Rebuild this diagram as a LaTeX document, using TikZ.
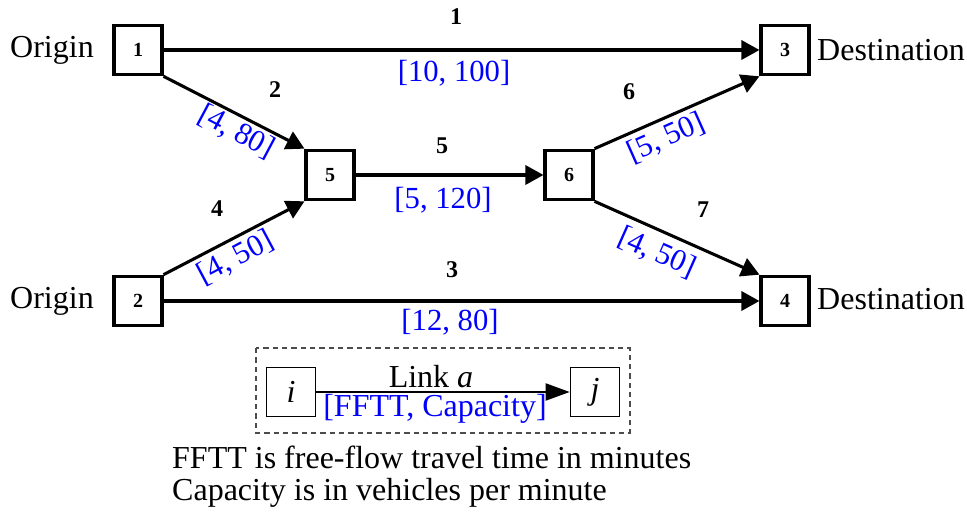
\documentclass[tikz,border=0pt]{standalone}
\usepackage{fontspec}
\setmainfont{Liberation Serif}
\usetikzlibrary{arrows.meta}
\begin{document}
\begin{tikzpicture}[x=0.375pt, y=-0.375pt,
    box/.style={draw, line width=1.15pt, minimum width=18pt, minimum height=18.6pt,
      inner sep=0pt, font=\fontsize{7.5}{8}\selectfont\bfseries},
    link/.style={line width=1.15pt, -{Triangle[length=6.8pt,width=7.2pt]}},
    num/.style={inner sep=1pt, font=\fontsize{9}{10}\selectfont\bfseries},
    fftt/.style={inner sep=0.5pt, text=blue, font=\fontsize{11.5}{13}\selectfont},
    tag/.style={inner sep=1pt, font=\fontsize{12}{14}\selectfont}]
  \useasboundingbox (0,0) rectangle (967,512);

  % Nodes
  \node[box] (n1) at (138,50) {1};
  \node[box] (n2) at (138,301) {2};
  \node[box] (n3) at (785,50) {3};
  \node[box] (n4) at (785,301) {4};
  \node[box] (n5) at (330,175) {5};
  \node[box] (n6) at (569,175) {6};

  \node[tag] (o1) at (52,50) {Origin};
  \node[tag] (o2) at (52,301) {Origin};
  \node[tag] (d3) at (891,50) {Destination};
  \node[tag] (d4) at (891,299) {Destination};

  % Links
  \draw[link] (n1) -- (n3);
  \draw[link] (n1.south east) -- (n5.north west);
  \draw[link] (n2) -- (n4);
  \draw[link] (n2.north east) -- (n5.south west);
  \draw[link] (n5) -- (n6);
  \draw[link] (n6.north east) -- (n3.south west);
  \draw[link] (n6.south east) -- (n4.north west);

  % Link numbers and [FFTT, capacity]
  \node[num] (a1) at (456,17) {1};
  \node[fftt] (c1) at (454,73) {[10, 100]};
  \node[num] (a2) at (275,90) {2};
  \node[fftt, rotate=-28] (c2) at (236,132) {[4, 80]};
  \node[num] (a3) at (452,270) {3};
  \node[fftt] (c3) at (450,322) {[12, 80]};
  \node[num] (a4) at (217,209) {4};
  \node[fftt, rotate=28] (c4) at (236,258) {[4, 50]};
  \node[num] (a5) at (442,146) {5};
  \node[fftt] (c5) at (443,200) {[5, 120]};
  \node[num] (a6) at (629,92) {6};
  \node[fftt, rotate=24] (c6) at (666,138) {[5, 50]};
  \node[num] (a7) at (703,210) {7};
  \node[fftt, rotate=-24] (c7) at (657,253) {[4, 50]};

  % Legend
  \draw[dashed, dash pattern=on 2pt off 1.5pt, gray!60!black, line width=0.4pt]
    (256,348) rectangle (630,433);
  \node[box, line width=0.6pt, minimum width=18.4pt, minimum height=18.4pt,
    font=\fontsize{12}{14}\selectfont\itshape] (li) at (291,392) {i};
  \node[box, line width=0.6pt, minimum width=18.4pt, minimum height=18.4pt,
    font=\fontsize{12}{14}\selectfont\itshape] (lj) at (595,392) {j};
  \draw[line width=0.7pt, -{Triangle[length=9pt,width=6.4pt]}] (li) -- (lj);
  \node[tag] (la) at (431,377) {Link \textit{a}};
  \node[tag, text=blue] (lc) at (435,409) {[FFTT, Capacity]};

  \node[tag, anchor=west] (t1) at (169,457) {FFTT is free-flow travel time in minutes};
  \node[tag, anchor=west] (t2) at (169,493) {Capacity is in vehicles per minute};
\end{tikzpicture}
\end{document}
